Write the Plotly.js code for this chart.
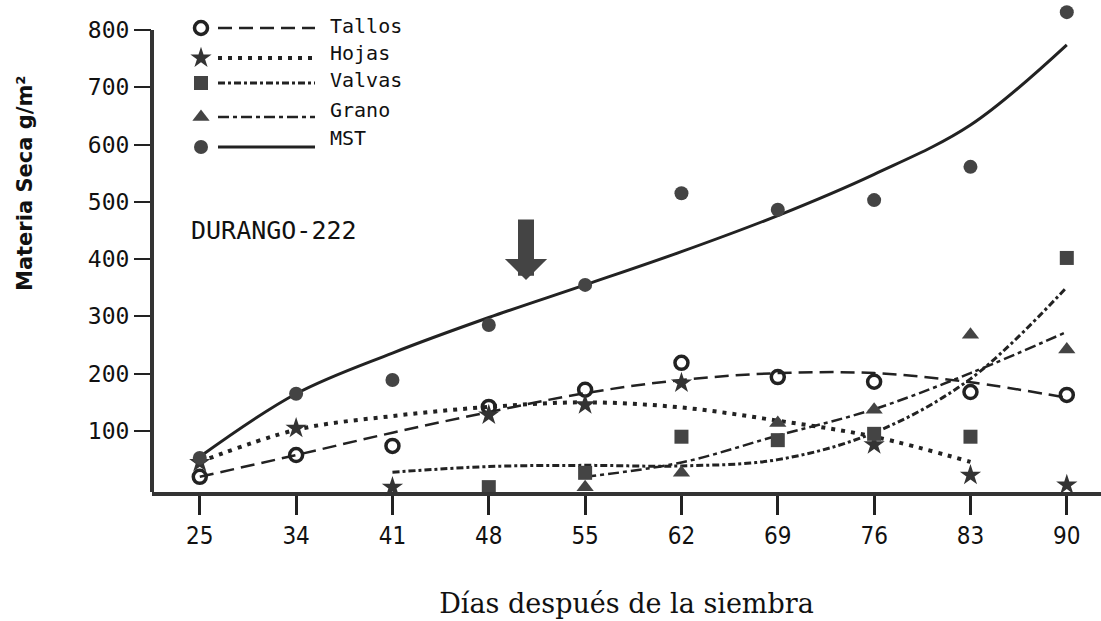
<!DOCTYPE html>
<html><head><meta charset="utf-8">
<script src="https://cdn.plot.ly/plotly-3.0.1.min.js"></script>
<style>body{margin:0;background:#fff}#chart{width:1101px;height:621px}</style>
</head><body><div id="chart"></div>
<script>
// ---- data (g/m2 of dry matter) ----
const days = ['25','34','41','48','55','62','69','76','83','90'];

const tallosDays = ['25','34','41','48','55','62','69','76','83','90'];
const tallosObs  = [20, 58, 74, 142, 172, 219, 194, 186, 168, 163];
const tallosFitDays = ['25','34','41','48','55','62','69','76','83','90'];
const tallosFit  = [20, 58, 97, 133, 166, 189, 201, 201, 185, 158];

const hojasDays = ['25','34','41','48','55','62','76','83','90'];
const hojasObs  = [45, 105, 2, 128, 146, 184, 76, 23, 6];
const hojasFitDays = ['25','34','41','48','55','62','69','76','83'];
const hojasFit  = [46, 102, 126, 142, 150, 141, 118, 90, 46];

const valvasDays = ['48','55','62','69','76','83','90'];
const valvasObs  = [2, 27, 90, 84, 95, 90, 402];
const valvasFitDays = ['41','48','55','62','69','76','83','90'];
const valvasFit  = [28, 38, 40, 39, 50, 97, 191, 351];

const granoDays = ['55','62','69','76','83','90'];
const granoObs  = [2, 27, 114, 137, 268, 242];
const granoFitDays = ['55','62','69','76','83','90'];
const granoFit  = [20, 45, 92, 138, 201, 273];

const mstDays = ['25','34','41','48','55','62','69','76','83','90'];
const mstObs  = [53, 165, 189, 285, 355, 515, 486, 503, 561, 831];
const mstFitDays = ['25','34','41','48','55','62','69','76','83','90'];
const mstFit  = [55, 165, 236, 298, 355, 413, 476, 548, 634, 774];

const seriesNames = ['Tallos','Hojas','Valvas','Grano','MST'];
const yTickVals = [100,200,300,400,500,600,700,800];

// ---- styles ----
const INK = '#222';
const styles = [
  {symbol:'circle-open', msize:13, mline:3.5, mcolor:INK, dash:'14px,7px', width:2.5},
  {symbol:'star', msize:16, mline:0, mcolor:'#333', dash:'4px,6px', width:4},
  {symbol:'square', msize:14, mline:0, mcolor:'#444', dash:'7px,3px,3px,3px', width:3},
  {symbol:'triangle-up', msize:15, mline:0, mcolor:'#444', dash:'11px,4px,4px,4px', width:2.5},
  {symbol:'circle', msize:14, mline:0, mcolor:'#444', dash:'solid', width:3}
];
const obs = [[tallosDays,tallosObs],[hojasDays,hojasObs],[valvasDays,valvasObs],[granoDays,granoObs],[mstDays,mstObs]];
const fits = [[tallosFitDays,tallosFit],[hojasFitDays,hojasFit],[valvasFitDays,valvasFit],[granoFitDays,granoFit],[mstFitDays,mstFit]];

const traces = [];
seriesNames.forEach((n,i)=>{
  const s = styles[i];
  traces.push({x:fits[i][0], y:fits[i][1], name:n, mode:'lines', showlegend:false, hoverinfo:'skip',
    line:{color:INK, width:s.width, dash:s.dash, shape:'spline', smoothing:1}});
});
seriesNames.forEach((n,i)=>{
  const s = styles[i];
  traces.push({x:obs[i][0], y:obs[i][1], name:n, mode:'markers', showlegend:false, cliponaxis:false,
    marker:{symbol:s.symbol, size:s.msize, color:s.mcolor, line:{color:INK, width:s.mline}}});
});

// ---- custom legend on a pixel-scaled overlay axis ----
const L = 152, T = 0, W = 949, H = 492;
const legMarkX = 201, legLine = [218, 315], legTextX = 328;
const legRowY = [28, 58, 83, 117, 147];
const legTextY = [26, 53, 80, 110, 138];
const annotations = [];
seriesNames.forEach((n,i)=>{
  const s = styles[i];
  traces.push({x:legLine, y:[legRowY[i],legRowY[i]], xaxis:'x2', yaxis:'y2', mode:'lines', showlegend:false, hoverinfo:'skip',
    line:{color:INK, width:s.width, dash:s.dash}});
  traces.push({x:[legMarkX], y:[legRowY[i]], xaxis:'x2', yaxis:'y2', mode:'markers', showlegend:false, cliponaxis:false, hoverinfo:'skip',
    marker:{symbol:s.symbol, size:s.msize, color:s.mcolor, line:{color:INK, width:s.mline}}});
  annotations.push({xref:'x2', yref:'y2', x:legTextX, y:legTextY[i], text:n, showarrow:false, xanchor:'left', yanchor:'middle',
    font:{family:'DejaVu Sans Mono', size:20, color:'#111'}});
});
annotations.push({xref:'x2', yref:'y2', x:189, y:230, text:'DURANGO-222', showarrow:false, xanchor:'left', yanchor:'middle',
  font:{family:'DejaVu Sans Mono', size:25, color:'#111'}});
annotations.push({xref:'x2', yref:'y2', x:526, y:280, ax:526, ay:218, axref:'x2', ayref:'y2', text:'', showarrow:true,
  arrowhead:1, arrowwidth:16, arrowsize:0.44, arrowcolor:'#444'});
annotations.push({xref:'paper', yref:'paper', x:(25-L)/W, y:(H-184)/H, text:'Materia Seca g/m²', textangle:-90, showarrow:false,
  xanchor:'center', yanchor:'middle', font:{family:'DejaVu Sans', weight:'bold', size:21, color:'#111'}});

const layout = {
  width:1101, height:621, margin:{l:L, r:0, t:T, b:621-H},
  paper_bgcolor:'#fff', plot_bgcolor:'rgba(0,0,0,0)', showlegend:false,
  xaxis:{type:'category', categoryorder:'array', categoryarray:days, range:[-0.496, 9.355],
    showgrid:false, zeroline:false, showline:true, linewidth:4, linecolor:'#333',
    ticks:'outside', ticklen:19, tickwidth:3, tickcolor:INK,
    tickfont:{family:'Liberation Sans Narrow, DejaVu Sans Condensed, Liberation Sans', size:24, color:'#111'},
    title:{text:'Días después de la siembra', standoff:46, font:{family:'DejaVu Serif', size:27, color:'#111'}}},
  yaxis:{range:[-6.5, 852.2], tickvals:yTickVals, showgrid:false, zeroline:false, showline:false,
    ticks:'outside', ticklen:17, tickwidth:2, tickcolor:INK,
    tickfont:{family:'DejaVu Sans Mono', size:23, color:'#111'}},
  xaxis2:{overlaying:'x', anchor:'y2', range:[L, L+W], visible:false, fixedrange:true},
  yaxis2:{overlaying:'y', anchor:'x2', range:[T+H, T], visible:false, fixedrange:true},
  shapes:[{type:'line', xref:'paper', yref:'y', x0:0, x1:0, y0:-6.5, y1:800, line:{color:'#333', width:4}}],
  annotations:annotations
};
Plotly.newPlot('chart', traces, layout, {staticPlot:true});
</script></body></html>
